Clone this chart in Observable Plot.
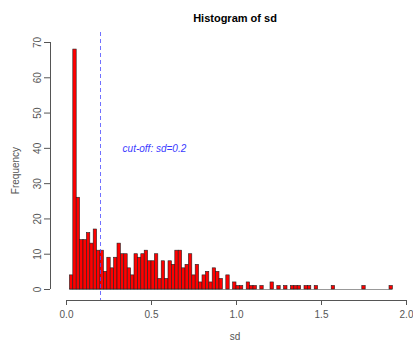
<!DOCTYPE html>
<html>
<head>
<meta charset="utf-8">
<script src="https://cdn.jsdelivr.net/npm/d3@7"></script>
<script src="https://cdn.jsdelivr.net/npm/@observablehq/plot@0.6"></script>
<style>
  html, body { margin: 0; padding: 0; background: #fff; }
  #chart svg { display: block; }
</style>
</head>
<body>
<div id="chart"></div>
<script>
// ---- data ----
const title = "Histogram of sd";
const xLabel = "sd";
const yLabel = "Frequency";
const firstBreak = 0.02;
const binWidth = 0.02;
// counts per bin, bins [0.02,0.04), [0.04,0.06), ... up to [1.90,1.92)
const counts = [
  4, 68, 26, 14, 14, 16, 13, 17, 11, 11,
  5, 9, 6, 9, 13, 10, 10, 6, 4, 10,
  9, 10, 11, 8, 8, 10, 3, 8, 3, 8,
  7, 11, 11, 6, 7, 10, 4, 7, 2, 4,
  5, 2, 6, 5, 3, 0, 4, 0, 2, 1,
  1, 0, 2, 1, 1, 0, 1, 0, 0, 2,
  0, 1, 0, 1, 0, 1, 1, 1, 0, 1,
  1, 0, 1, 0, 0, 0, 0, 1, 0, 0,
  0, 0, 0, 0, 0, 0, 1, 0, 0, 0,
  0, 0, 0, 0, 1
];
const xTicks = [0, 0.5, 1, 1.5, 2];
const yTicks = [0, 10, 20, 30, 40, 50, 60, 70];
const cutoff = 0.2;
const cutoffLabel = "cut-off: sd=0.2";
const cutoffLabelX = 0.33;
const cutoffLabelY = 40;

// ---- table ----
const bins = counts.map((c, i) => ({
  x0: +(firstBreak + i * binWidth).toFixed(2),
  x1: +(firstBreak + (i + 1) * binWidth).toFixed(2),
  count: c
}));
const lastBreak = bins[bins.length - 1].x1;

const font = "'Liberation Sans', Arial, Helvetica, sans-serif";
const axisColor = "#555";

const chart = Plot.plot({
  width: 413,
  height: 342,
  marginTop: 32,
  marginBottom: 42,
  marginLeft: 50,
  marginRight: 0,
  style: { fontFamily: font, fontSize: "10px", background: "#fff", color: axisColor },
  x: { domain: [xTicks[0], xTicks[xTicks.length - 1]], range: [66, 406] },
  y: { domain: [yTicks[0], yTicks[yTicks.length - 1]], range: [289, 42] },
  marks: [
    // empty-bin baseline
    Plot.ruleY([0], { x1: firstBreak, x2: lastBreak, stroke: "#999", strokeWidth: 1 }),
    // bars
    Plot.rectY(bins.filter(d => d.count > 0), {
      x1: "x0", x2: "x1", y: "count",
      fill: "#ff0000", stroke: "#222", strokeWidth: 0.6
    }),
    // cut-off line
    Plot.ruleX([cutoff], { stroke: "#4d4dff", strokeWidth: 0.8, strokeDasharray: "4,3" }),
    Plot.text([cutoffLabel], {
      x: () => cutoffLabelX, y: () => cutoffLabelY, text: d => d,
      textAnchor: "start", fill: "#3a3aff", fontStyle: "italic", fontSize: 10
    }),
    // x axis
    Plot.ruleY([0], { x1: xTicks[0], x2: xTicks[xTicks.length - 1], dy: 11, stroke: axisColor }),
    Plot.axisX({
      anchor: "bottom", ticks: xTicks, tickSize: 5, tickPadding: 5,
      tickFormat: d3.format(".1f"), stroke: axisColor, fill: axisColor, label: null
    }),
    Plot.text([xLabel], {
      frameAnchor: "bottom", dx: 3, dy: 36, text: d => d, fill: axisColor, fontSize: 10,
      lineAnchor: "middle"
    }),
    // y axis
    Plot.ruleX([0], { y1: yTicks[0], y2: yTicks[yTicks.length - 1], dx: -16, stroke: axisColor }),
    Plot.axisY({
      anchor: "left", ticks: yTicks, tickSize: 6, tickFormat: () => "",
      stroke: axisColor, label: null
    }),
    Plot.text(yTicks, {
      y: d => d, text: d => String(d), frameAnchor: "left", dx: -13,
      rotate: -90, textAnchor: "middle", lineAnchor: "middle", fill: axisColor, fontSize: 10
    }),
    Plot.text([yLabel], {
      frameAnchor: "left", dx: -35, dy: 4, text: d => d, rotate: -90,
      textAnchor: "middle", lineAnchor: "middle", fill: axisColor, fontSize: 10
    }),
    // title
    Plot.text([title], {
      frameAnchor: "top", dx: 3, dy: -14, text: d => d, fontWeight: "bold",
      fontSize: 11, fill: "#000", lineAnchor: "middle"
    })
  ]
});
document.getElementById("chart").appendChild(chart);
</script>
</body>
</html>
